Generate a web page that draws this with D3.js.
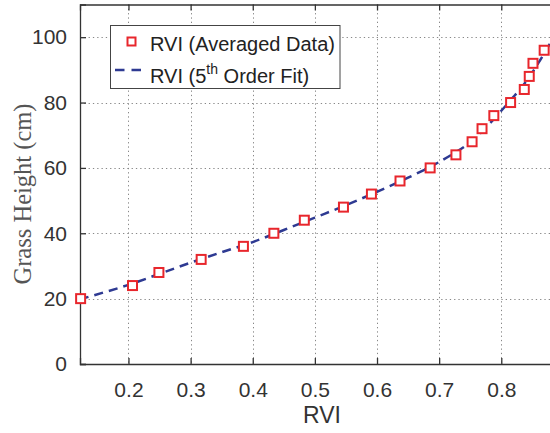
<!DOCTYPE html>
<html>
<head>
<meta charset="utf-8">
<script src="https://cdn.jsdelivr.net/npm/d3@7"></script>
<style>
  html, body { margin: 0; padding: 0; background: #fff; }
  svg { display: block; }
</style>
</head>
<body>
<svg id="chart" width="550" height="433"></svg>
<script>
// Averaged measurements: RVI vs grass height
const rviAvg    = [0.123, 0.2065, 0.249, 0.317, 0.385, 0.434, 0.483, 0.546, 0.591, 0.637, 0.6855, 0.727, 0.753, 0.769, 0.788, 0.815, 0.837, 0.845, 0.851, 0.869];
const heightAvg = [20, 24, 28, 32, 36, 40, 44, 48, 52, 56, 60, 64, 68, 72, 76, 80, 84, 88, 92, 96];

// 5th order polynomial fit, sampled along RVI
const fitRVI    = [0.122, 0.2, 0.25, 0.3, 0.35, 0.4, 0.45, 0.5, 0.55, 0.6, 0.65, 0.7, 0.75, 0.77, 0.8, 0.82, 0.84, 0.86, 0.88];
const fitHeight = [19.8, 24.2, 27.6, 31.0, 34.2, 37.3, 41.0, 44.8, 48.6, 52.7, 57.0, 61.8, 67.8, 71.3, 77.5, 81.8, 86.5, 92.2, 98.6];

const xTicks = [0.2, 0.3, 0.4, 0.5, 0.6, 0.7, 0.8];
const yTicks = [0, 20, 40, 60, 80, 100];

const legendLabels = ["RVI (Averaged Data)", "RVI (5", "th", " Order Fit)"];

const svg = d3.select("#chart");
const plotL = 80, plotR = 551, plotT = 4.5, plotB = 364;

const x = d3.scaleLinear().domain([0.122, 0.88]).range([plotL, plotR]);
const y = d3.scaleLinear().domain([0, 110]).range([plotB, plotT]);

const axisColor = "#333";
const font = "'Liberation Sans', Arial, sans-serif";

// dotted grid
const grid = svg.append("g").attr("stroke", "#888").attr("stroke-width", 1).attr("stroke-dasharray", "1.3,3");
grid.selectAll("line.gx").data(xTicks).join("line")
  .attr("x1", d => Math.round(x(d)) + 0.5).attr("x2", d => Math.round(x(d)) + 0.5)
  .attr("y1", plotT).attr("y2", plotB);
grid.selectAll("line.gy").data(yTicks.filter(d => d > 0)).join("line")
  .attr("x1", plotL).attr("x2", plotR)
  .attr("y1", d => Math.round(y(d)) + 0.5).attr("y2", d => Math.round(y(d)) + 0.5);

// axes
const xAxis = svg.append("g").attr("transform", `translate(0,${plotB})`)
  .call(d3.axisBottom(x).tickValues(xTicks).tickSize(-6).tickPadding(18).tickFormat(d3.format(".1f")));
const xAxisTop = svg.append("g").attr("transform", `translate(0,${plotT})`)
  .call(d3.axisTop(x).tickValues(xTicks).tickSize(-6).tickFormat(""));
const yAxis = svg.append("g").attr("transform", `translate(${plotL},0)`)
  .call(d3.axisLeft(y).tickValues(yTicks).tickSize(-6).tickPadding(13));

[xAxis, xAxisTop, yAxis].forEach(g => {
  g.select(".domain").attr("stroke", axisColor).attr("stroke-width", 1.3);
  g.selectAll(".tick line").attr("stroke", axisColor).attr("stroke-width", 1.3);
  g.selectAll(".tick text").attr("fill", "#333").style("font-family", font).style("font-size", "21px");
});
xAxis.selectAll(".tick text").attr("dy", "0.71em");

// axis titles
svg.append("text").attr("x", 322).attr("y", 423).attr("text-anchor", "middle")
  .attr("fill", "#333").style("font-family", font).style("font-size", "23px").text("RVI");
svg.append("text").attr("transform", "translate(31,194) rotate(-90)").attr("text-anchor", "middle")
  .attr("fill", "#555").style("font-family", "'Liberation Serif', 'Times New Roman', serif")
  .style("font-size", "24.5px").text("Grass Height (cm)");

// fit curve
const line = d3.line().x((d, i) => x(fitRVI[i])).y(d => y(d)).curve(d3.curveCatmullRom);
svg.append("path").datum(fitHeight).attr("d", line)
  .attr("fill", "none").attr("stroke", "#2e3a92").attr("stroke-width", 2.5)
  .attr("stroke-dasharray", "9,6");

// averaged data markers
svg.append("g").selectAll("rect").data(heightAvg).join("rect")
  .attr("x", (d, i) => x(rviAvg[i]) - 4.5).attr("y", d => y(d) - 4.5)
  .attr("width", 9).attr("height", 9)
  .attr("fill", "#fff").attr("stroke", "#e8262c").attr("stroke-width", 2);

// legend
const lg = svg.append("g");
lg.append("rect").attr("x", 110.5).attr("y", 25.5).attr("width", 229.5).attr("height", 63)
  .attr("fill", "#fff").attr("stroke", "#444").attr("stroke-width", 1);
lg.append("rect").attr("x", 127.5).attr("y", 37.5).attr("width", 8).attr("height", 8)
  .attr("fill", "#fff").attr("stroke", "#e8262c").attr("stroke-width", 2);
lg.append("line").attr("x1", 115).attr("x2", 142).attr("y1", 70).attr("y2", 70)
  .attr("stroke", "#2e3a92").attr("stroke-width", 2.5).attr("stroke-dasharray", "9.5,7");
lg.append("text").attr("x", 150).attr("y", 51).attr("fill", "#222")
  .style("font-family", font).style("font-size", "20px").text(legendLabels[0]);
const t2 = lg.append("text").attr("x", 150).attr("y", 83).attr("fill", "#222")
  .style("font-family", font).style("font-size", "20px");
t2.append("tspan").text(legendLabels[1]);
t2.append("tspan").attr("dy", -9).style("font-size", "14px").text(legendLabels[2]);
t2.append("tspan").attr("dy", 9).text(legendLabels[3]);
</script>
</body>
</html>
